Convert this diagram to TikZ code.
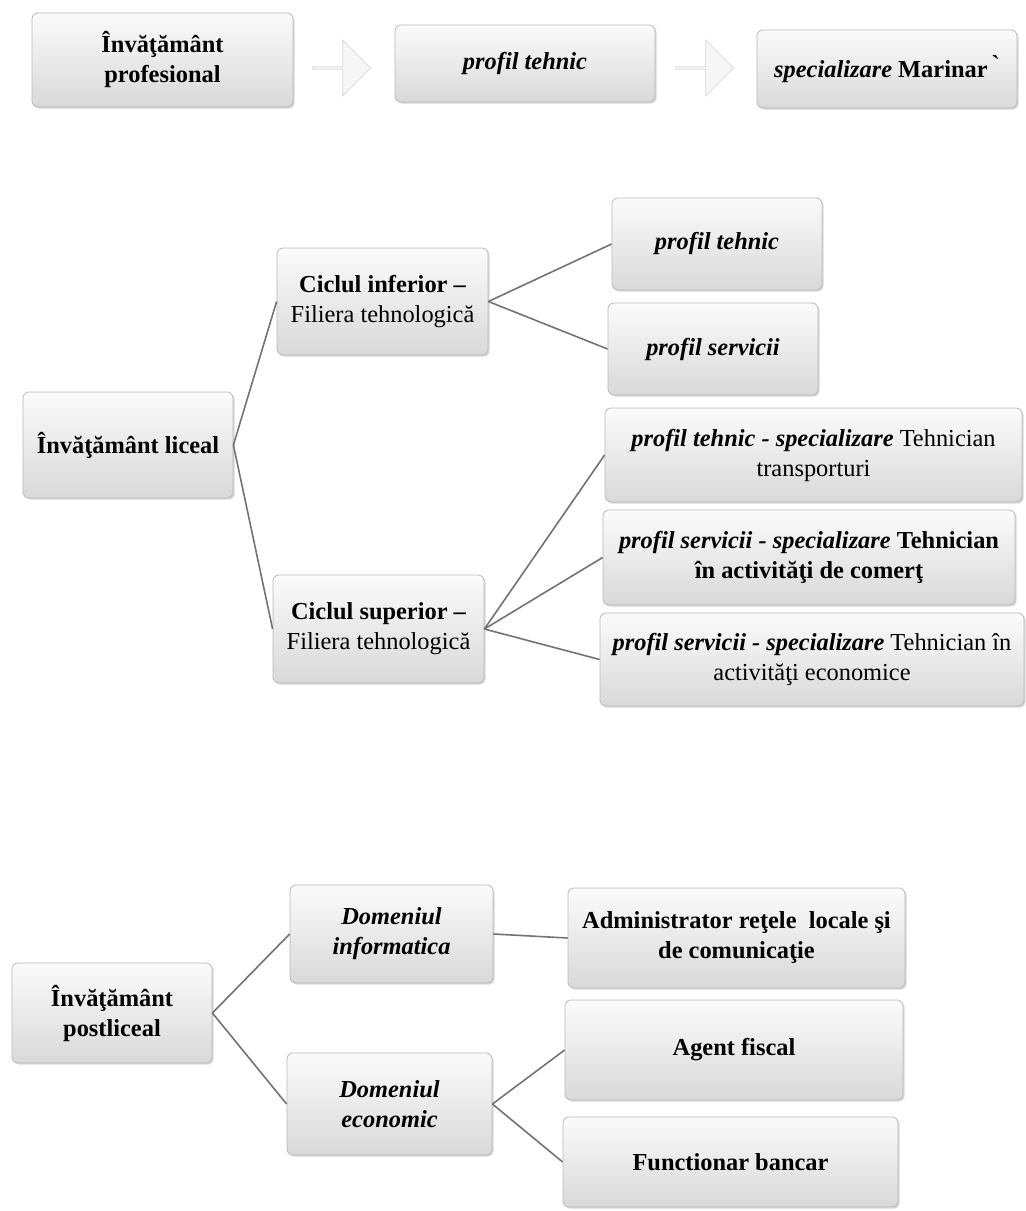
\documentclass[tikz,border=0pt]{standalone}
\usepackage{fontspec}
\setmainfont{Liberation Serif}
\usetikzlibrary{shapes.arrows, shadows}

\tikzset{
	box/.style={draw=gray!55, rounded corners=3pt, top color=gray!3, bottom color=gray!30,
		drop shadow={shadow xshift=0.8pt, shadow yshift=-0.8pt, fill=gray!70, opacity=0.45},
		align=center, inner sep=1pt, font=\fontsize{12.2}{15}\selectfont\bfseries},
	sag/.style={single arrow, draw=gray!30, fill=gray!7, minimum height=29pt, minimum width=28pt,
		single arrow head extend=4pt, inner sep=0pt},
	leg/.style={draw=black!55, line width=0.8pt}
}

\begin{document}
\begin{tikzpicture}[x=0.5pt, y=-0.5pt]
					\useasboundingbox (0,0) rectangle (1026,1211);

					\node[box, minimum width=130.5pt, minimum height=47pt] (prof) at (162.5,60) {Învăţământ\\profesional};
					\node[sag] (a1) at (341,68) {};
					\node[box, minimum width=130pt, minimum height=38.5pt] (teh) at (525,63.5) {\itshape profil tehnic};
					\node[sag] (a2) at (704,68) {};
					\node[box, minimum width=130pt, minimum height=39pt] (mar) at (887,69) {\textit{specializare} Marinar\,\raisebox{0.5ex}{\textasciigrave}};

					\node[box, minimum width=105pt, minimum height=53pt] (lic) at (128,445) {Învăţământ liceal};
					\node[box, minimum width=105.5pt, minimum height=53.5pt] (inf) at (382.5,301.5) {Ciclul inferior –\\\mdseries Filiera tehnologică};
					\node[box, minimum width=105.5pt, minimum height=54pt] (sup) at (378.5,629) {Ciclul superior –\\\mdseries Filiera tehnologică};
					\node[box, minimum width=105pt, minimum height=46pt] (pt) at (717,244) {\itshape profil tehnic};
					\node[box, minimum width=105pt, minimum height=46pt] (ps) at (713,349) {\itshape profil servicii};
					\node[box, minimum width=208.5pt, minimum height=47pt] (ptt) at (813.5,455) {\textit{profil tehnic - specializare} \mdseries Tehnician\\\mdseries transporturi};
					\node[box, minimum width=206pt, minimum height=47.5pt] (psc) at (809,557.5) {\textit{profil servicii - specializare} Tehnician\\în activităţi de comerţ};
					\node[box, minimum width=212pt, minimum height=46.5pt] (pse) at (812,659.5) {\textit{profil servicii - specializare} \mdseries Tehnician în\\\mdseries activităţi economice};

					\node[box, minimum width=100pt, minimum height=50pt] (post) at (112,1013) {Învăţământ\\postliceal};
					\node[box, minimum width=101.5pt, minimum height=49pt] (dinf) at (391.5,934) {\itshape Domeniul\\\itshape informatica};
					\node[box, minimum width=102.5pt, minimum height=51pt] (deco) at (389.5,1104) {\itshape Domeniul\\\itshape economic};
					\node[box, minimum width=168.5pt, minimum height=50pt] (adm) at (736.5,938) {Administrator reţele \ locale şi\\de comunicaţie};
					\node[box, minimum width=169pt, minimum height=50pt] (agf) at (734,1050) {Agent fiscal};
					\node[box, minimum width=167.5pt, minimum height=45pt] (fb) at (730.5,1162) {Functionar bancar};

					\draw[leg] (lic.east) -- (inf.west);
					\draw[leg] (lic.east) -- (sup.west);
					\draw[leg] (inf.east) -- (pt.west);
					\draw[leg] (inf.east) -- (ps.west);
					\draw[leg] (sup.east) -- (ptt.west);
					\draw[leg] (sup.east) -- (psc.west);
					\draw[leg] (sup.east) -- (pse.west);
					\draw[leg] (post.east) -- (dinf.west);
					\draw[leg] (post.east) -- (deco.west);
					\draw[leg] (dinf.east) -- (adm.west);
					\draw[leg] (deco.east) -- (agf.west);
					\draw[leg] (deco.east) -- (fb.west);
				\end{tikzpicture}
\end{document}
